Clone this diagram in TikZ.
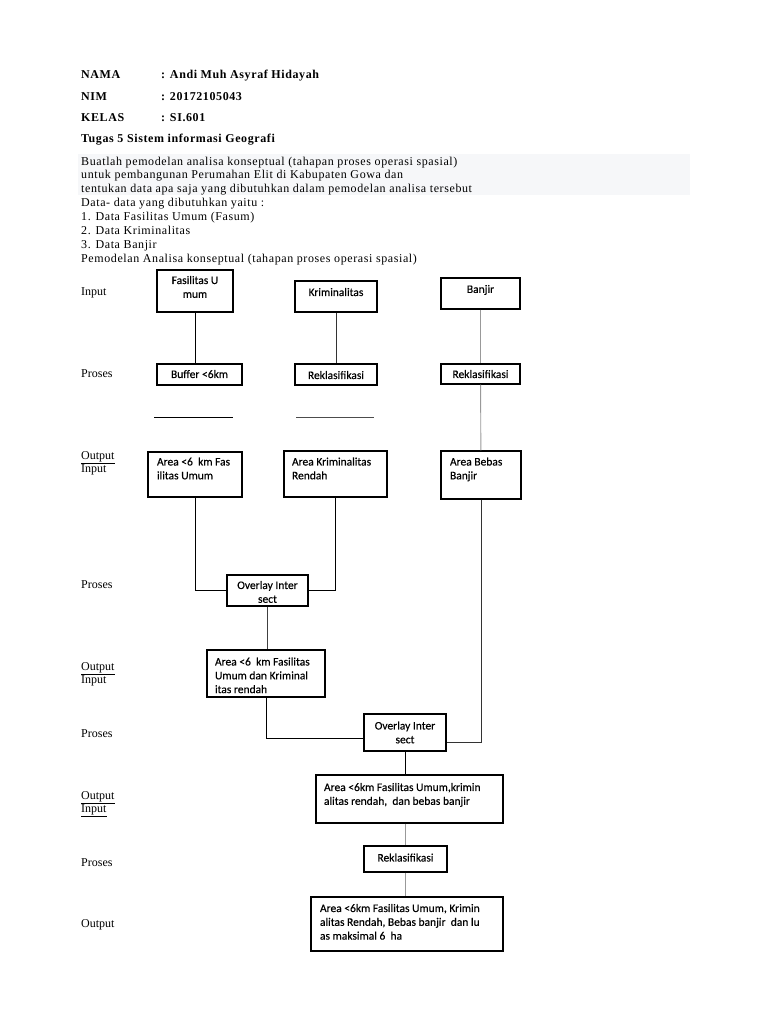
\documentclass[tikz,border=0pt]{standalone}
\usepackage{fontspec}
\setmainfont{Liberation Serif}
\newfontfamily\boxfont[FakeBold=0.3]{Carlito}
\newfontfamily\widefont[LetterSpace=5]{Liberation Serif}
\usetikzlibrary{positioning}
\definecolor{bandgrey}{HTML}{F6F7F9}
\tikzset{flowbox/.style = {draw, line width=1.1pt, inner sep=0pt,
                           font=\boxfont\fontsize{11.5}{13.8}\selectfont},
         stage/.style = {anchor=base west, inner sep=0pt, font=\fontsize{12}{14}\selectfont},
         head/.style = {stage, font=\widefont\bfseries\fontsize{12}{14}\selectfont},
         link/.style = {line width=.9pt},
         greylink/.style = {line width=.9pt, black!40}}
% width, height, top pad, left pad, lines
\newcommand{\boxcell}[5]{\parbox[c][#2][t]{#1}{\vspace*{#3}\leftskip=#4\relax
  \rightskip=0pt plus 1fil\parindent=0pt #5}}

\begin{document}
\begin{tikzpicture}[x=1pt, y=-1pt]
    \useasboundingbox (0,0) rectangle (768,1024);
    \fill[white] (0,0) rectangle (768,1024);
    \fill[bandgrey] (78,154) rectangle (690,195);

    % header
    \node[head] (nama) at (81,79) {NAMA};
    \node[head] (namav) at (161,79) {: Andi Muh Asyraf Hidayah};
    \node[head] (nim) at (81,101) {NIM};
    \node[head] (nimv) at (161,101) {: 20172105043};
    \node[head] (kelas) at (81,122) {KELAS};
    \node[head] (kelasv) at (161,122) {: SI.601};
    \node[head] (tugas) at (81,143) {Tugas 5 Sistem informasi Geografi};
    \node[stage, anchor=north west, align=left, font=\widefont\fontsize{12}{13.9}\selectfont] (soal) at (81,156.5)
        {Buatlah pemodelan analisa konseptual (tahapan proses operasi spasial)\\
         untuk pembangunan Perumahan Elit di Kabupaten Gowa dan\\
         tentukan data apa saja yang dibutuhkan dalam pemodelan analisa tersebut\\
         Data- data yang dibutuhkan yaitu :\\
         1. Data Fasilitas Umum (Fasum)\\
         2. Data Kriminalitas\\
         3. Data Banjir\\
         Pemodelan Analisa konseptual (tahapan proses operasi spasial)};

    % stage labels
    \node[stage] (lin1) at (81,295) {Input};
    \node[stage] (lpr1) at (81,377) {Proses};
    \node[stage] (lout1) at (81,459) {\underline{Output}};
    \node[stage] (lin2) at (81,472) {Input};
    \node[stage] (lpr2) at (81,588) {Proses};
    \node[stage] (lout2) at (81,670) {\underline{Output}};
    \node[stage] (lin3) at (81,683) {Input};
    \node[stage] (lpr3) at (81,737) {Proses};
    \node[stage] (lout3) at (81,799) {\underline{Output}};
    \node[stage] (lin4) at (81,812) {\underline{Input}};
    \node[stage] (lpr4) at (81,866) {Proses};
    \node[stage] (lout4) at (81,927) {Output};

    % boxes
    \node[flowbox] (fasum) at (195,291) {\boxcell{76pt}{42pt}{6pt}{0pt}{\centering Fasilitas~U\\mum}};
    \node[flowbox] (krim) at (336,296.5) {\boxcell{82pt}{31pt}{7pt}{0pt}{\centering Kriminalitas}};
    \node[flowbox] (banjir) at (480.5,293.5) {\boxcell{79pt}{31pt}{7pt}{0pt}{\centering Banjir}};
    \node[flowbox] (buffer) at (199.5,374.5) {\boxcell{85pt}{21pt}{6pt}{0pt}{\centering Buffer~<6km}};
    \node[flowbox] (reklas1) at (336,374.5) {\boxcell{82pt}{21pt}{7pt}{0pt}{\centering Reklasifikasi}};
    \node[flowbox] (reklas2) at (480.5,374) {\boxcell{79pt}{20pt}{6pt}{0pt}{\centering Reklasifikasi}};
    \node[flowbox] (areafasum) at (195,474.5) {\boxcell{94pt}{45pt}{5.5pt}{9pt}{Area~<6~~km~Fas\\ilitas~Umum}};
    \node[flowbox] (areakrim) at (335.5,474) {\boxcell{103pt}{46pt}{6.5pt}{8pt}{Area~Kriminalitas\\Rendah}};
    \node[flowbox] (areabanjir) at (481,475) {\boxcell{80pt}{48pt}{6.5pt}{9pt}{Area~Bebas\\Banjir}};
    \node[flowbox] (overlay1) at (267.5,590.5) {\boxcell{81pt}{31pt}{6pt}{0pt}{\centering Overlay~Inter\\sect}};
    \node[flowbox] (areafk) at (266,673.5) {\boxcell{118pt}{47pt}{7.5pt}{8pt}{Area~<6~~km~Fasilitas\\Umum~dan~Kriminal\\itas~rendah}};
    \node[flowbox] (overlay2) at (405,732.5) {\boxcell{82pt}{37pt}{7.5pt}{0pt}{\centering Overlay~Inter\\sect}};
    \node[flowbox] (areaall) at (409.5,799) {\boxcell{187pt}{48pt}{8pt}{8pt}{Area~<6km~Fasilitas~Umum,krimin\\alitas~rendah,~~dan~bebas~banjir}};
    \node[flowbox] (reklas3) at (405.5,859) {\boxcell{83pt}{26pt}{7.5pt}{0pt}{\centering Reklasifikasi}};
    \node[flowbox] (final) at (407,924) {\boxcell{192pt}{54pt}{7pt}{9pt}{Area~<6km~Fasilitas~Umum,~Krimin\\alitas~Rendah,~Bebas~banjir~~dan~lu\\as~maksimal~6~~ha}};

    % loose strokes under the first row
    \coordinate (cutAa) at (154,417);
    \coordinate (cutAb) at (233,417);
    \coordinate (cutBa) at (296,417);
    \coordinate (cutBb) at (374,417);
    \draw[link] (cutAa) -- (cutAb);
    \draw[link, black!70] (cutBa) -- (cutBb);

    % connectors
    \draw[link] (fasum.south) -- (fasum.south |- buffer.north);
    \draw[link, black!80] (krim) -- (reklas1);
    \draw[greylink] (banjir) -- (reklas2);
    \draw[greylink] (reklas2) -- (areabanjir);
    \draw[link] (areafasum.south) |- (overlay1.west);
    \draw[link] (areakrim.south) |- (overlay1.east);
    \draw[link, black!75] (overlay1.south) -- (overlay1.south |- areafk.north);
    \draw[link] (areafk.south) |- ([yshift=-5.5pt]overlay2.west);
    \draw[link, black!80] (areabanjir.south) |- ([yshift=-9.5pt]overlay2.east);
    \draw[link] (overlay2.south) -- (overlay2.south |- areaall.north);
    \draw[greylink] (areaall.south -| reklas3.north) -- (reklas3.north);
    \draw[greylink] (reklas3.south) -- (reklas3.south |- final.north);
\end{tikzpicture}
\end{document}
